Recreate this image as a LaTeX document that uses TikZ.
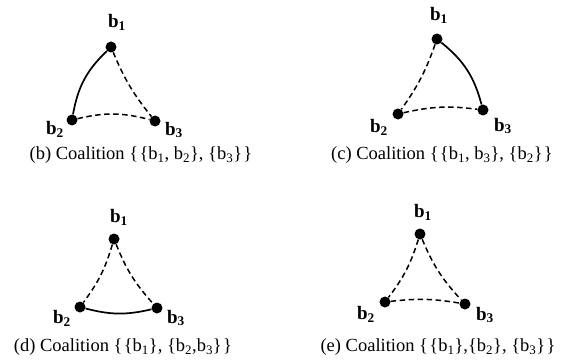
\documentclass[tikz,border=0pt]{standalone}
\usepackage{fontspec}
\setmainfont{Liberation Serif}
\begin{document}
\begin{tikzpicture}[x=1pt,y=-1pt,
  dot/.style={circle,fill=black,inner sep=0pt,minimum size=11pt},
  lbl/.style={inner sep=0pt,font=\fontsize{19}{22}\selectfont\bfseries},
  captext/.style={inner sep=0pt,font=\fontsize{18.5}{21}\selectfont},
  solidedge/.style={line width=1.7pt},
  dashedge/.style={line width=1.5pt,dash pattern=on 5.5pt off 3.5pt}]
\useasboundingbox (0,0) rectangle (568,361);
\newcommand{\bb}[1]{b\textsubscript{#1}}
\newcommand{\lb}[1]{b\textsubscript{\textbf{#1}}}
\newcommand{\bk}{\kern1.3pt}
% (b)
\node[dot] (b1) at (111,47) {};
\node[dot] (b2) at (72,120) {};
\node[dot] (b3) at (155,121) {};
\node[lbl] (lb1) at (117,22) {\lb{1}};
\node[lbl] (lb2) at (55,129) {\lb{2}};
\node[lbl] (lb3) at (174,130) {\lb{3}};
\draw[solidedge] (b1) to[bend right=18] (b2);
\draw[dashedge] (b1) to[bend right=8] (b3);
\draw[dashedge] (b2) to[bend left=14] (b3);
\node[captext] (cb) at (141,155) {(b) Coalition \{\bk\{\bb{1}, \bb{2}\}, \{\bb{3}\}\bk\}};
% (c)
\node[dot] (c1) at (437,39) {};
\node[dot] (c2) at (398,114) {};
\node[dot] (c3) at (483,110) {};
\node[lbl] (lc1) at (439,15) {\lb{1}};
\node[lbl] (lc2) at (379,127) {\lb{2}};
\node[lbl] (lc3) at (503,126) {\lb{3}};
\draw[solidedge] (c1) to[bend left=18] (c3);
\draw[dashedge] (c1) to[bend left=8] (c2);
\draw[dashedge] (c2) to[bend left=10] (c3);
\node[captext] (cc) at (442,155) {(c) Coalition \{\bk\{\bb{1}, \bb{3}\}, \{\bb{2}\}\bk\}};
% (d)
\node[dot] (d1) at (114,239) {};
\node[dot] (d2) at (80,307) {};
\node[dot] (d3) at (157,308) {};
\node[lbl] (ld1) at (119,217) {\lb{1}};
\node[lbl] (ld2) at (62,318) {\lb{2}};
\node[lbl] (ld3) at (176,318) {\lb{3}};
\draw[dashedge] (d1) to[bend left=10] (d2);
\draw[dashedge] (d1) to[bend right=10] (d3);
\draw[solidedge] (d2) to[bend right=14] (d3);
\node[captext] (cd) at (123,347) {(d) Coalition \{\bk\{\bb{1}\}, \{\bb{2},\bb{3}\}\bk\}};
% (e)
\node[dot] (e1) at (420,234) {};
\node[dot] (e2) at (385,302) {};
\node[dot] (e3) at (465,304) {};
\node[lbl] (le1) at (423,212) {\lb{1}};
\node[lbl] (le2) at (366,314) {\lb{2}};
\node[lbl] (le3) at (485,315) {\lb{3}};
\draw[dashedge] (e1) to[bend left=10] (e2);
\draw[dashedge] (e1) to[bend right=10] (e3);
\draw[dashedge] (e2) to[bend left=8] (e3);
\node[captext] (ce) at (438,347) {(e) Coalition \{\bk\{\bb{1}\},\{\bb{2}\}, \{\bb{3}\}\bk\}};
\end{tikzpicture}
\end{document}
